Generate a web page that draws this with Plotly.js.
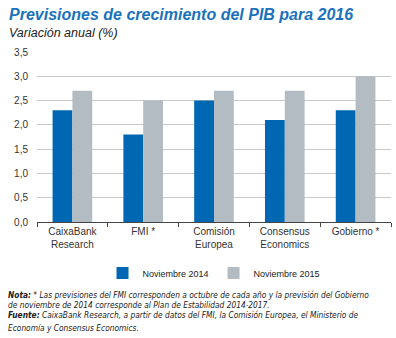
<!DOCTYPE html>
<html><head><meta charset="utf-8">
<script src="https://cdn.plot.ly/plotly-3.0.1.min.js"></script>
<style>body{margin:0;background:#fff}#c{width:396px;height:338px}</style>
</head><body><div id="c"></div>
<script>
const categories = ["CaixaBank<br>Research", "FMI *", "Comisión<br>Europea", "Consensus<br>Economics", "Gobierno *"];
const nov2014 = [2.3, 1.8, 2.5, 2.1, 2.3];
const nov2015 = [2.7, 2.5, 2.7, 2.7, 3.0];
const yTicks = [0, 0.5, 1, 1.5, 2, 2.5, 3, 3.5];
const yTickLabels = ["0,0", "0,5", "1,0", "1,5", "2,0", "2,5", "3,0", "3,5"];
const noteLines = [
  "<b><i>Nota:</i></b><i> * Las previsiones del FMI corresponden a octubre de cada año y la previsión del Gobierno</i>",
  "<i>de noviembre de 2014 corresponde al Plan de Estabilidad 2014-2017.</i>",
  "<b><i>Fuente:</i></b><i> CaixaBank Research, a partir de datos del FMI, la Comisión Europea, el Ministerio de</i>",
  "<i>Economía y Consensus Economics.</i>"
];

const F = "Liberation Sans, Arial, sans-serif";
const NARROW = "Liberation Sans Narrow, DejaVu Sans Condensed, Arial Narrow, sans-serif";

const traces = [
  {type: "bar", name: "Noviembre 2014", x: categories, y: nov2014, marker: {color: "#0068b3"}},
  {type: "bar", name: "Noviembre 2015", x: categories, y: nov2015, marker: {color: "#b3bcc3"}}
];

const noteY = [-0.43, -0.488, -0.547, -0.622];
const noteAnns = noteLines.map((t, i) => ({
  xref: "paper", yref: "paper", x: -0.088, y: noteY[i], xanchor: "left", yanchor: "middle",
  showarrow: false, align: "left", text: t,
  font: {family: NARROW, size: 8.3, color: "#222"}
}));

const layout = {
  width: 396, height: 338,
  margin: {l: 37, r: 5, t: 52, b: 116},
  paper_bgcolor: "#fff", plot_bgcolor: "#fff",
  font: {family: F, size: 10, color: "#333"},
  barmode: "group", bargap: 0.44, bargroupgap: 0,
  showlegend: true,
  legend: {orientation: "h", x: 0.5, xanchor: "center", y: -0.3, yanchor: "middle",
           font: {family: F, size: 9, color: "#222"}, itemwidth: 30, traceorder: "normal"},
  xaxis: {type: "category", tickson: "boundaries", ticks: "outside", ticklen: 4, tickcolor: "#444",
          showline: true, linecolor: "#444", linewidth: 1, showgrid: false,
          tickfont: {family: F, size: 10, color: "#333"}, fixedrange: true},
  yaxis: {range: [0, 3.5], tickvals: yTicks, ticktext: yTickLabels, showgrid: true,
          gridcolor: "#c9c9c9", gridwidth: 1, zeroline: false, showline: false, ticks: "",
          ticklabelstandoff: 8, tickfont: {family: F, size: 10, color: "#333"}},
  annotations: [
    {xref: "paper", yref: "paper", x: -0.085, y: 1.222, xanchor: "left", yanchor: "middle", showarrow: false,
     text: "<b><i>Previsiones de crecimiento del PIB para 2016</i></b>",
     font: {family: F, size: 16, color: "#1a72bb"}},
    {xref: "paper", yref: "paper", x: -0.085, y: 1.112, xanchor: "left", yanchor: "middle", showarrow: false,
     text: "<i>Variación anual (%)</i>",
     font: {family: F, size: 12.5, color: "#222"}}
  ].concat(noteAnns)
};

Plotly.newPlot("c", traces, layout, {displayModeBar: false, staticPlot: true});
</script></body></html>
